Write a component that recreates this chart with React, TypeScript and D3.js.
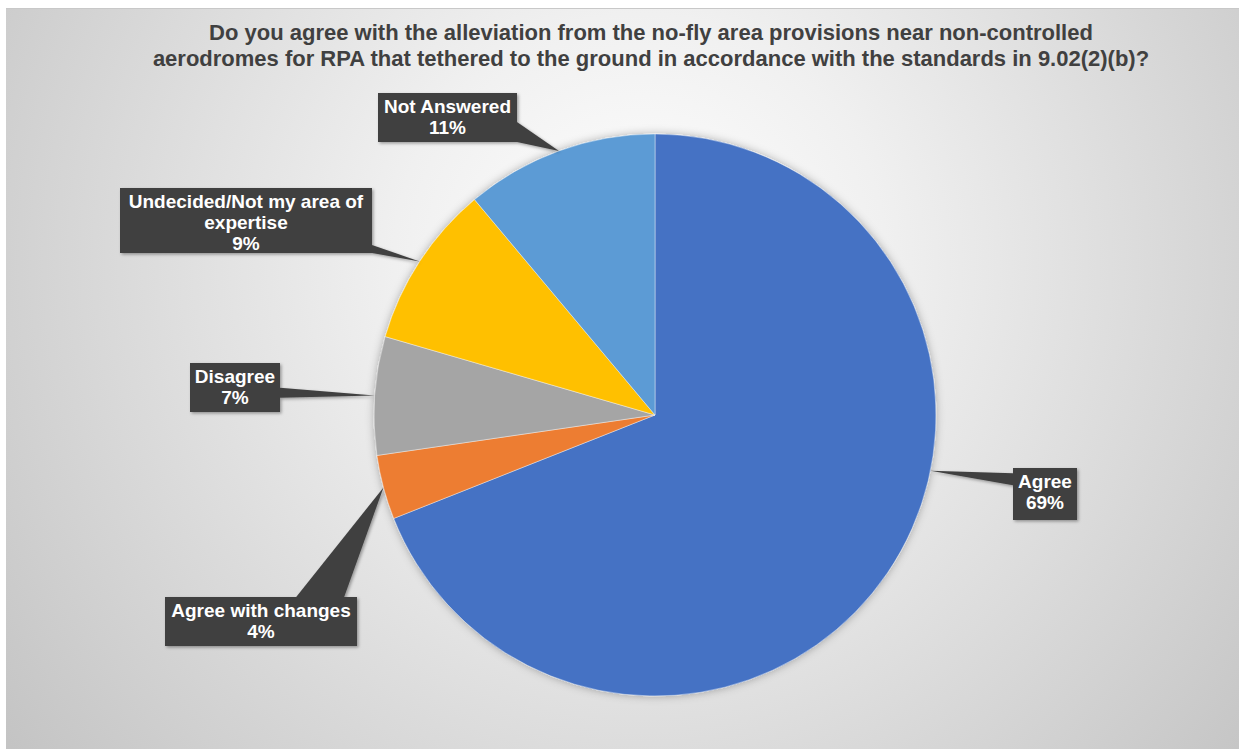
import React from "react";
import * as d3 from "d3";

const titleLines = [
  "Do you agree with the alleviation from the no-fly area provisions near non-controlled",
  "aerodromes for RPA that tethered to the ground in accordance with the standards in 9.02(2)(b)?",
];
const categories = ["Agree", "Agree with changes", "Disagree", "Undecided/Not my area of expertise", "Not Answered"];
const values = [69, 3.7, 6.8, 9.4, 11.1];
const colors = ["#4472C4", "#ED7D31", "#A5A5A5", "#FFC000", "#5B9BD5"];
const labelLines = [["Agree"], ["Agree with changes"], ["Disagree"], ["Undecided/Not my area of", "expertise"], ["Not Answered"]];
// label boxes layout: [x, y, w, h]
const labelBoxes = [
  [1013, 468, 64, 52],
  [165, 597, 192, 49],
  [190, 363, 90, 49],
  [120, 188, 252, 65],
  [378, 93, 139, 49],
];
const tipMode = ["near", "mid", "mid", "mid", "mid"];
const baseHalfWidths = [6, 24, 5, 4, 10];

const W = 1239, H = 749;
const cx = 655, cy = 415, R = 281;

export default function App() {
  const total = d3.sum(values);
  const pie = d3.pie<number>().sort(null).startAngle(0).endAngle(2 * Math.PI)(values);
  const arc = d3.arc<d3.PieArcDatum<number>>().innerRadius(0).outerRadius(R);

  const callouts = pie.map((p, i) => {
    const [bx, by, bw, bh] = labelBoxes[i];
    const bcx = bx + bw / 2, bcy = by + bh / 2;
    let ang: number;
    if (tipMode[i] === "near") {
      ang = Math.atan2(bcx - cx, -(bcy - cy));
    } else {
      ang = (p.startAngle + p.endAngle) / 2;
    }
    const tx = cx + R * Math.sin(ang), ty = cy - R * Math.cos(ang);
    const nx = Math.max(bx, Math.min(bx + bw, tx));
    const ny = Math.max(by, Math.min(by + bh, ty));
    const ddx = tx < bx ? bx - tx : tx > bx + bw ? tx - bx - bw : 0;
    const ddy = ty < by ? by - ty : ty > by + bh ? ty - by - bh : 0;
    const hw = baseHalfWidths[i];
    let p1: [number, number], p2: [number, number];
    if (ddx >= ddy) {
      const ex = tx < bx ? bx : bx + bw;
      const t = (ex - bcx) / (tx - bcx);
      const ry = bcy + t * (ty - bcy);
      const c = Math.max(by + hw, Math.min(by + bh - hw, (ry + ny) / 2));
      p1 = [ex, c - hw];
      p2 = [ex, c + hw];
    } else {
      const ey = ty < by ? by : by + bh;
      const t = (ey - bcy) / (ty - bcy);
      const rx = bcx + t * (tx - bcx);
      const c = Math.max(bx + hw, Math.min(bx + bw - hw, (rx + nx) / 2));
      p1 = [c - hw, ey];
      p2 = [c + hw, ey];
    }
    const path = `M${p1[0]},${p1[1]}L${tx},${ty}L${p2[0]},${p2[1]}Z`;
    return { path, bx, by, bw, bh };
  });

  return (
    <div style={{ position: "fixed", left: 0, top: 0 }}>
      <svg width={W} height={H} style={{ display: "block" }}>
        <defs>
          <radialGradient id="bg" gradientUnits="userSpaceOnUse" cx={640} cy={260} r={820}>
            <stop offset="0" stopColor="#ffffff" />
            <stop offset="0.3" stopColor="#f0f0f0" />
            <stop offset="1" stopColor="#c2c2c2" />
          </radialGradient>
          <filter id="pieShadow" x="-20%" y="-20%" width="140%" height="140%">
            <feDropShadow dx="0" dy="0" stdDeviation="4" floodColor="#000" floodOpacity="0.3" />
          </filter>
          <filter id="lblShadow" x="-20%" y="-20%" width="140%" height="140%">
            <feDropShadow dx="1.5" dy="1.5" stdDeviation="1.5" floodColor="#000" floodOpacity="0.35" />
          </filter>
        </defs>
        <rect x={0} y={0} width={W} height={H} fill="#ffffff" />
        <rect x={6} y={8} width={W - 6} height={H - 8} fill="url(#bg)" />
        <line x1={6} x2={W} y1={8.5} y2={8.5} stroke="#c8c8c8" strokeWidth={1} />
        {titleLines.map((t, i) => (
          <text key={i} x={651} y={40 + i * 25.5} textAnchor="middle"
            fontFamily="'Liberation Sans', Arial, sans-serif" fontWeight="bold" fontSize={22} fill="#404040">
            {t}
          </text>
        ))}
        <g filter="url(#pieShadow)" transform={`translate(${cx},${cy})`}>
          {pie.map((p, i) => (
            <path key={categories[i]} d={arc(p) || ""} fill={colors[i]} stroke="#ffffff" strokeOpacity={0.5} strokeWidth={0.8} />
          ))}
        </g>
        {callouts.map((c, i) => {
          const lines = [...labelLines[i], `${Math.round((values[i] / total) * 100)}%`];
          return (
            <g key={i}>
              <g filter="url(#lblShadow)">
                <path d={c.path} fill="#404040" />
                <rect x={c.bx} y={c.by} width={c.bw} height={c.bh} fill="#404040" />
              </g>
              {lines.map((l, j) => (
                <text key={j} x={c.bx + c.bw / 2} y={c.by + 19.5 + j * 21} textAnchor="middle"
                  fontFamily="'Liberation Sans', Arial, sans-serif" fontWeight="bold" fontSize={19} fill="#ffffff">
                  {l}
                </text>
              ))}
            </g>
          );
        })}
      </svg>
    </div>
  );
}
